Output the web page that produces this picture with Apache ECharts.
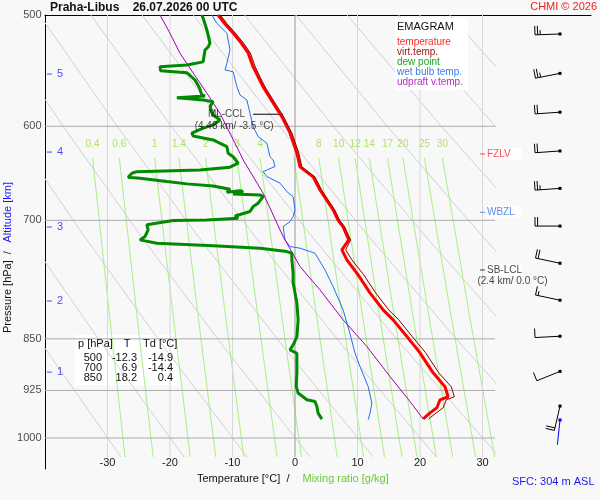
<!DOCTYPE html>
<html>
<head>
<meta charset="utf-8">
<script src="https://cdn.jsdelivr.net/npm/echarts@6/dist/echarts.min.js"></script>
<style>
html,body{margin:0;padding:0;background:#f8f8f8;}
#chart{width:600px;height:500px;}
</style>
</head>
<body>
<div id="chart"></div>
<script>
// ---------------- DATA ----------------
// temperature profile (p in hPa, T in °C)
const tempP = [500, 507.4, 515.0, 523.5, 532.1, 544.4, 553.4, 562.5, 577.5, 590.9, 606.6, 626.8, 641.3, 651.9, 666.0, 688.1, 700, 707.5, 722.8, 734.7, 746.8, 765.4, 788.3, 810.6, 824.0, 850, 869.7, 898.7, 919.5, 934.6, 939.3, 951.7, 959.6, 969.0];
const tempT = [-12.3, -11.2, -9.9, -8.6, -7.5, -6.7, -5.9, -5.1, -3.5, -2.1, -0.8, 0.3, 0.8, 2.9, 4.0, 6.1, 6.9, 7.7, 8.6, 7.5, 8.3, 10.1, 12.0, 14.1, 15.7, 18.2, 20.0, 22.1, 24.0, 24.5, 23.2, 22.7, 21.6, 20.5];
// virtual temperature (same levels as tempP)
const virtT = [-11.95, -10.85, -9.55, -8.25, -7.15, -6.35, -5.6, -4.8, -3.2, -1.8, -0.5, 0.6, 1.1, 3.2, 4.25, 6.35, 7.15, 7.95, 8.9, 8.1, 9.1, 11.0, 12.9, 15.0, 16.6, 19.05, 20.9, 23.0, 25.0, 25.5, 24.2, 23.7, 22.6, 21.4];
// dew point
const dewP = [500, 504.1, 512.4, 523.5, 526.9, 529.5, 539.9, 542.7, 544.2, 547.8, 549.6, 556.2, 563.4, 570.0, 570.9, 572.5, 574.0, 574.7, 576.3, 581.0, 589.0, 593.8, 598.7, 601.9, 606.9, 609.6, 613.6, 620.4, 627.2, 630.7, 637.4, 641.6, 644.5, 646.3, 648.0, 652.2, 653.3, 656.9, 659.4, 661.6, 665.2, 668.5, 666.8, 667.9, 670.3, 671.4, 673.3, 680.6, 684.4, 690.0, 691.9, 695.0, 697.6, 699.5, 700.3, 705.2, 711.0, 718.8, 722.8, 724.8, 726.7, 729.9, 732.7, 736.8, 738.8, 746.8, 763.3, 775.5, 788.2, 801.7, 824.0, 847.3, 858.4, 865.5, 867.9, 870.3, 889.5, 899.1, 919.0, 929.0, 939.3, 941.9, 949.7, 960.1, 969.5];
const dewT = [-14.9, -14.6, -14.1, -13.6, -13.9, -14.4, -14.7, -17.3, -21.6, -21.5, -17.3, -16.0, -15.3, -14.9, -14.4, -18.9, -18.9, -14.7, -13.1, -13.6, -13.1, -12.0, -13.1, -14.7, -16.5, -16.3, -13.1, -10.9, -10.7, -9.9, -9.1, -10.4, -15.2, -25.3, -26.1, -26.7, -24.8, -20.5, -17.3, -13.1, -10.4, -10.9, -8.8, -8.3, -9.9, -5.6, -5.1, -5.9, -6.7, -7.2, -7.5, -9.6, -9.1, -14.1, -19.5, -23.7, -23.5, -24.0, -24.8, -24.8, -22.1, -13.1, -5.6, -1.3, -0.5, -0.5, -0.3, -0.3, 0.0, 0.3, 0.5, 0.3, -0.3, -0.8, -0.5, 0.3, 0.3, 0.3, 0.2, 0.5, 1.9, 3.2, 3.5, 3.7, 4.3];
// wet bulb temperature
const wetP = [500, 506.9, 515.2, 529.5, 541.0, 547.1, 548.7, 562.3, 570.0, 574.7, 587.4, 600.3, 610.3, 616.9, 630.7, 634.0, 640.9, 646.3, 651.6, 658.6, 667.9, 673.3, 688.1, 695.8, 701.5, 707.4, 722.8, 730.7, 732.7, 738.8, 759.2, 780.3, 810.6, 843.0, 870.3, 889.5, 919.0, 944.4, 960.1, 970.6];
const wetT = [-13.3, -12.5, -10.9, -10.4, -10.9, -11.2, -9.9, -9.3, -8.8, -7.7, -7.2, -6.7, -5.9, -4.5, -4.0, -3.5, -3.2, -5.1, -4.5, -2.4, -1.3, -0.3, 0.0, -0.3, -0.8, -1.9, -1.6, -0.8, 0.8, 3.2, 4.8, 6.1, 7.7, 8.8, 9.6, 10.4, 11.7, 12.3, 12.0, 11.7];
// updraft virtual temperature (parcel)
const parcelP = [500, 515.2, 532.4, 549.8, 568.4, 587.4, 606.9, 627.2, 634.0, 669.6, 718.8, 755.0, 784.5, 824.0, 860.8, 904.2, 941.9, 969.5];
const parcelT = [-21.6, -20.0, -18.4, -16.3, -14.1, -12.0, -10.4, -8.8, -8.3, -5.1, -1.9, 0.8, 4.0, 7.7, 11.5, 15.2, 18.4, 20.5];

// axes
const pressureLevels = [500, 600, 700, 850, 925, 1000];
const tempTicks = [-30, -20, -10, 0, 10, 20, 30];
const isotherms = [-30, -20, -10, 0, 10, 20, 30];

// saturation mixing ratio lines: label and T at mixP levels
const mixRatios = ['0.4', '0.6', '1', '1.4', '2', '3', '4', '6', '8', '10', '12', '14', '17', '20', '25', '30'];
const mixP = [632, 810, 1031.6];
const mixT = [
  [-32.39, -29.79, -27.20], [-28.11, -25.40, -22.70], [-22.47, -19.61, -16.76], [-18.58, -15.63, -12.68],
  [-14.32, -11.25, -8.19], [-9.29, -6.08, -2.87], [-5.58, -2.27, 1.04], [-0.17, 3.30, 6.76],
  [3.81, 7.39, 10.97], [6.98, 10.65, 14.32], [9.62, 13.37, 17.12], [11.89, 15.71, 19.53],
  [14.79, 18.70, 22.61], [17.26, 21.24, 25.23], [20.71, 24.80, 28.90], [23.58, 27.75, 31.94]
];
// dry adiabats: T at adiabatP levels
const adiabatP = [500, 599.4, 718.2, 860.8, 1031.6];
const adiabatT = [
  [-73.68, -63.08, -51.94, -40.20, -27.83],
  [-65.48, -54.44, -42.85, -30.62, -17.74],
  [-57.28, -45.80, -33.75, -21.03, -7.65],
  [-49.07, -37.16, -24.65, -11.45, 2.44],
  [-40.87, -28.52, -15.55, -1.88, 12.53],
  [-32.67, -19.88, -6.45, 7.71, 22.62],
  [-24.46, -11.24, 2.64, 17.29, 32.71],
  [-16.26, -2.60, 11.74, 26.87, 42.80],
  [-8.06, 6.04, 20.84, 36.45, 52.89],
  [0.15, 14.68, 29.94, 46.03, 62.98],
  [8.35, 23.32, 39.03, 55.61, 73.06],
  [16.55, 31.96, 48.13, 65.19, 83.15],
  [24.76, 40.59, 57.23, 74.77, 93.24]
];
// altitude marks (km) and their pressure
const altKm = [1, 2, 3, 4, 5];
const altP = [897.7, 798.9, 707.7, 625.9, 550.8];
// wind (every 500 m, last = surface)
const barbP = [515.8, 550.2, 586.3, 624.8, 664.3, 706.6, 751.0, 797.9, 846.4, 896.6, 949.0, 970.9];
const barbDir = [268, 259, 266, 266, 266, 270, 282, 282, 267, 248, 193, 186];
const barbSpd = [25, 25, 20, 20, 25, 20, 20, 15, 10, 10, 20, 2];
// special levels
const levelNames = ['FZLV', 'WBZL', 'SB-LCL'];
const levelP = [627.9, 690.8, 759.3];
const sbLclInfo = '(2.4 km/ 0.0 °C)';
const cclP = 588.3;
const cclT = [-6.7, -1.9];
const cclInfo = '(4.48 km/ -3.5 °C)';
// table
const tableP = [500, 700, 850];
const tableT = [-12.3, 6.9, 18.2];
const tableTd = [-14.9, -14.4, 0.4];

// ---------------- LAYOUT ----------------
const FONT = '"Liberation Sans", Arial, Helvetica, sans-serif';
const X_MIN = -40, X0_MAX = 47.36, X1_MAX = 32;
const Y0_MAX = 1052.1, Y1_MAX = 1031.6;
const BARB_T = 42.4, MARK_T = 30.0, ALT_T = -39.3;

function line(name, xs, ps, color, width, grid, z) {
  return {
    type: 'line', name: name, xAxisIndex: grid, yAxisIndex: grid,
    data: xs.map((t, i) => [t, ps[i]]),
    showSymbol: false, symbol: 'none', silent: true, z: z,
    lineStyle: { color: color, width: width },
    emphasis: { disabled: true }
  };
}
function texts(name, items, label, sym, grid) {
  return {
    type: 'scatter', name: name, xAxisIndex: grid || 0, yAxisIndex: grid || 0,
    clip: false, silent: true, z: 6,
    symbol: sym ? sym.symbol : 'circle',
    symbolSize: sym ? sym.size : 1,
    itemStyle: { color: sym ? sym.color : 'rgba(0,0,0,0)' },
    data: items,
    label: Object.assign({ show: true, fontSize: 11, color: '#1a1a1a', fontFamily: FONT, formatter: p => p.name }, label),
    emphasis: { disabled: true }
  };
}

const series = [];
// background grid lines (grid 1, clipped)
adiabatT.forEach(ts => series.push(line('dry adiabat', ts, adiabatP, '#d0d0d0', 1, 1, 1)));
mixT.forEach(ts => series.push(line('mixing ratio', ts, mixP, '#a9ef84', 1, 1, 1)));
isotherms.forEach(t => series.push(line('isotherm', [t, t], [500, Y1_MAX], t === 0 ? '#9a9a9a' : '#d8d8d8', 1, 1, t === 0 ? 2 : 1)));
pressureLevels.slice(1).forEach(p => series.push(line('isobar', [X_MIN, X1_MAX], [p, p], '#ababab', 1, 1, 2)));
// mixing ratio labels
series.push(Object.assign(texts('mix labels',
  mixRatios.map((w, i) => ({ name: w, value: [mixT[i][0], mixP[0]] })),
  { position: 'top', distance: 8, fontSize: 10, color: '#99dd44' }, null, 0), { z: 1 }));

// CCL line
series.push(line('ML-CCL', cclT, [cclP, cclP], '#000', 1, 0, 4));
// profiles
series.push(line('wet bulb temp.', wetT, wetP, '#1f6ff0', 1, 0, 5));
series.push(line('udpraft v.temp.', parcelT, parcelP, '#a000b0', 1, 0, 5));
series.push(line('dew point', dewT, dewP, '#008a00', 3, 0, 5));
series.push(line('temperature', tempT, tempP, '#ff0000', 3, 0, 5));
series.push(line('virt.temp.', virtT, tempP, '#8b0000', 1, 0, 5));

// pressure tick labels
series.push(texts('p labels', pressureLevels.map(p => ({ name: String(p), value: [X_MIN, p] })),
  { position: 'left', distance: 3, fontSize: 11 }));
// altitude labels
series.push(texts('alt labels', altKm.map((k, i) => ({ name: String(k), value: [ALT_T, altP[i]] })),
  { position: 'right', distance: 5, fontSize: 11, color: '#1a1aee' }, { symbol: 'rect', size: [5, 1], color: '#1a1aee' }));
// special levels
const levelColors = ['#ff2020', '#2f72e8', '#111111'];
levelNames.forEach((n, i) => {
  series.push(texts('level ' + n, [{ name: n, value: [MARK_T, levelP[i]] }],
    { position: 'right', distance: 1, fontSize: 10, color: levelColors[i], backgroundColor: '#ffffff', padding: [1, 1, 1, 1], width: 34 },
    { symbol: 'rect', size: [5, 1], color: levelColors[i] }));
});
series.push(texts('sb-lcl info', [{ name: sbLclInfo, value: [34.8, 773.8] }], { position: 'inside', fontSize: 10, color: '#111' }));
series.push(texts('ccl label', [{ name: 'ML-CCL', value: [-10.96, cclP] }, { name: cclInfo, value: [-9.73, 600.4] }],
  { position: 'inside', fontSize: 10, color: '#111' }));

// wind barbs
series.push({
  type: 'custom', name: 'wind', xAxisIndex: 0, yAxisIndex: 0, z: 6, silent: true, clip: false,
  data: barbP.map((p, i) => [BARB_T, p, barbSpd[i], barbDir[i]]),
  encode: { x: 0, y: 1 },
  renderItem: function (params, api) {
    const pt = api.coord([api.value(0), api.value(1)]);
    const spd = api.value(2), d = api.value(3) * Math.PI / 180;
    const vx = Math.sin(d), vy = -Math.cos(d);
    const L = 25, tip = [pt[0] + vx * L, pt[1] + vy * L];
    const fx = -vy, fy = vx;
    const color = params.dataIndex === barbP.length - 1 ? '#0000ff' : '#000000';
    const ch = [{ type: 'line', shape: { x1: pt[0], y1: pt[1], x2: tip[0], y2: tip[1] }, style: { stroke: color, lineWidth: 1 } }];
    let s = Math.round(spd / 5) * 5, pos = 0;
    const sp = 2.6, full = 9, half = 4.5;
    while (s >= 10) {
      const bx = tip[0] - vx * pos * sp, by = tip[1] - vy * pos * sp;
      ch.push({ type: 'line', shape: { x1: bx, y1: by, x2: bx + fx * full, y2: by + fy * full }, style: { stroke: color, lineWidth: 1 } });
      s -= 10; pos++;
    }
    if (s >= 5) {
      if (pos === 0) pos = 1;
      const bx = tip[0] - vx * pos * sp, by = tip[1] - vy * pos * sp;
      ch.push({ type: 'line', shape: { x1: bx, y1: by, x2: bx + fx * half, y2: by + fy * half }, style: { stroke: color, lineWidth: 1 } });
    }
    ch.push({ type: 'rect', shape: { x: pt[0] - 1.5, y: pt[1] - 1.5, width: 3, height: 3 }, style: { fill: color } });
    return { type: 'group', children: ch };
  }
});

// ---------------- GRAPHIC TEXTS ----------------
function gtext(text, x, y, color, size, opts) {
  opts = opts || {};
  const align = opts.align || 'left';
  return {
    type: 'text', x: x, y: y, z: opts.z || 60, rotation: opts.rotation || 0, silent: true,
    style: {
      text: text, fill: color, font: (opts.bold ? 'bold ' : '') + size + 'px ' + FONT,
      align: align, textAlign: align, verticalAlign: 'middle', textVerticalAlign: 'middle'
    }
  };
}
const legendItems = [['temperature', '#ff2a2a'], ['virt.temp.', '#a01515'], ['dew point', '#22a022'], ['wet bulb temp.', '#3a7de8'], ['udpraft v.temp.', '#b030c0']];
const graphics = [
  gtext('Praha-Libus    26.07.2026 00 UTC', 50, 7.5, '#111', 12, { bold: true }),
  gtext('CHMI © 2026', 597, 6.5, '#ee2020', 11, { align: 'right' }),
  { type: 'rect', shape: { x: 395, y: 18, width: 73, height: 72 }, style: { fill: '#ffffff' }, z: 50, silent: true },
  gtext('EMAGRAM', 397, 26.5, '#111', 11),
  { type: 'rect', shape: { x: 75, y: 335, width: 105, height: 50 }, style: { fill: '#ffffff' }, z: 0, silent: true },
  gtext('p [hPa]', 78, 343.5, '#111', 11),
  gtext('T', 127, 343.5, '#111', 11, { align: 'center' }),
  gtext('Td [°C]', 143, 343.5, '#111', 11),
  gtext('Pressure [hPa]  /', 8, 333, '#111', 11, { rotation: Math.PI / 2 }),
  gtext('Altitude [km]', 8, 242.5, '#1a1aee', 11, { rotation: Math.PI / 2 }),
  gtext('Temperature [°C]  /', 197, 479, '#111', 11),
  gtext('Mixing ratio [g/kg]', 302.5, 479, '#66cc33', 11),
  gtext('SFC: 304 m ASL', 512, 481.5, '#1a1aee', 11)
];
legendItems.forEach((it, i) => graphics.push(gtext(it[0], 397, 42.5 + i * 10, it[1], 10)));
tableP.forEach((p, i) => {
  const y = 358.3 + i * 10;
  graphics.push(gtext(String(p), 102, y, '#111', 11, { align: 'right' }));
  graphics.push(gtext(tableT[i].toFixed(1), 137, y, '#111', 11, { align: 'right' }));
  graphics.push(gtext(tableTd[i].toFixed(1), 173, y, '#111', 11, { align: 'right' }));
});

// ---------------- OPTION ----------------
const chart = echarts.init(document.getElementById('chart'), null, { renderer: 'canvas' });
chart.setOption({
  animation: false,
  backgroundColor: '#f8f8f8',
  textStyle: { fontFamily: FONT },
  grid: [
    { left: 45, top: 15, width: 546, height: 454 },
    { left: 45, top: 15, width: 450, height: 442 }
  ],
  xAxis: [
    { gridIndex: 0, type: 'value', min: X_MIN, max: X0_MAX, position: 'top',
      axisLine: { show: true, onZero: false, lineStyle: { color: '#000', width: 1 } },
      axisTick: { show: false }, axisLabel: { show: false }, splitLine: { show: false } },
    { gridIndex: 1, type: 'value', min: X_MIN, max: X1_MAX, interval: 10, position: 'bottom',
      axisLine: { show: false, onZero: false }, axisTick: { show: false }, splitLine: { show: false },
      axisLabel: { show: true, margin: 0, fontSize: 11, color: '#1a1a1a', fontFamily: FONT,
        formatter: v => tempTicks.indexOf(v) >= 0 ? String(v) : '' } }
  ],
  yAxis: [
    { gridIndex: 0, type: 'log', logBase: 10, min: 500, max: Y0_MAX, inverse: true,
      axisLine: { show: true, onZero: false, lineStyle: { color: '#000', width: 1 } },
      axisTick: { show: false }, axisLabel: { show: false }, splitLine: { show: false } },
    { gridIndex: 1, type: 'log', logBase: 10, min: 500, max: Y1_MAX, inverse: true,
      axisLine: { show: false, onZero: false }, axisTick: { show: false }, axisLabel: { show: false }, splitLine: { show: false } }
  ],
  graphic: { elements: graphics },
  series: series
});
</script>
</body>
</html>
